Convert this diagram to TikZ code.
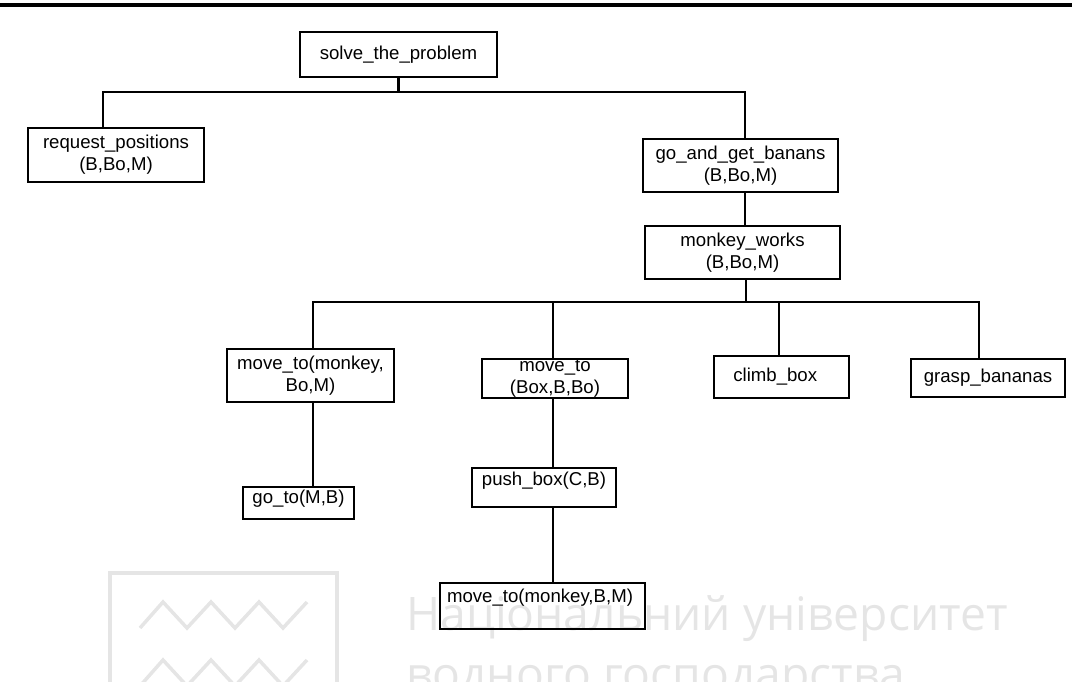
\documentclass[tikz,border=0pt]{standalone}
\usepackage{fontspec}
\setmainfont{Liberation Sans}
\newfontfamily\markfont{Open Sans}

\tikzset{
    goal/.style={draw, line width=1.6pt, align=center, inner sep=0pt,
        font=\fontsize{10.6}{12.4}\selectfont},
    link/.style={line width=1.6pt},
    faint/.style={draw=black!10, line width=2pt},
    marktext/.style={anchor=base west, inner sep=0pt, text=black!10,
        font=\markfont\fontsize{26.3}{32}\selectfont},
}

\begin{document}
\begin{tikzpicture}[x=0.02cm, y=-0.02cm]
    \useasboundingbox (0,0) rectangle (1072,681);
    \clip (0,0) rectangle (1072,681);
    % watermark
    \draw[faint] (110,573) rectangle (337,720);
    \draw[faint] (140,628) -- (163,602) -- (187,628) -- (211,602) -- (235,628) -- (259,602) -- (283,628) -- (307,602);
    \draw[faint] (140,686) -- (163,660) -- (187,686) -- (211,660) -- (235,686) -- (259,660) -- (283,686) -- (307,660);
    \node[marktext] (mark1) at (406,630) {Національний університет};
    \node[marktext] (mark2) at (406,690) {водного господарства};
    % top rule
    \draw[line width=2pt] (0,5) -- (1072,5);
    % goals
    \node[goal, minimum width=3.94cm, minimum height=0.90cm] (solve) at (398.5,54.5) {solve\_the\_problem};
    \node[goal, minimum width=3.52cm, minimum height=1.08cm] (req) at (116,155) {request\_positions\\(B,Bo,M)};
    \node[goal, minimum width=3.90cm, minimum height=1.06cm] (gogb) at (740.5,165.5) {go\_and\_get\_banans\\(B,Bo,M)};
    \node[goal, minimum width=3.90cm, minimum height=1.06cm] (works) at (742.5,252.5) {monkey\_works\\(B,Bo,M)};
    \node[goal, minimum width=3.34cm, minimum height=1.06cm] (mtm) at (310.5,375.5) {move\_to(monkey,\\Bo,M)};
    \node[goal, minimum width=2.92cm, minimum height=0.78cm] (mtb) at (555,378.5) {move\_to\\(Box,B,Bo)};
    \node[goal, minimum width=2.70cm, minimum height=0.84cm] (climb) at (781.5,377) {climb\_box\hspace{0.25cm}};
    \node[goal, minimum width=3.08cm, minimum height=0.76cm] (grasp) at (988,378) {grasp\_bananas};
    \node[goal, minimum width=2.22cm, minimum height=0.64cm, text depth=7pt] (goto) at (298.5,503) {go\_to(M,B)};
    \node[goal, minimum width=2.88cm, minimum height=0.78cm, text depth=10.5pt] (push) at (544,487.5) {push\_box(C,B)};
    \node[goal, minimum width=4.10cm, minimum height=0.92cm, text depth=11.5pt] (mtl) at (542.5,606) {move\_to(monkey,B,M)\hspace{0.1cm}};
    % junctions
    \coordinate (b1L) at (103,92);
    \coordinate (b1R) at (745,92);
    \coordinate (b2L) at (313,302);
    \coordinate (b2M) at (746,302);
    \coordinate (b2R) at (979,302);
    \coordinate (k2) at (553,302);
    \coordinate (k3) at (779,302);
    % first level
    \draw[link] (solve.south) -- (solve.south |- b1L);
    \draw[link] (b1L |- req.north) -- (b1L) -- (b1R) -- (b1R |- gogb.north);
    \draw[link] (b1R |- gogb.south) -- (b1R |- works.north);
    % second level
    \draw[link] (b2M |- works.south) -- (b2M);
    \draw[link] (b2L |- mtm.north) -- (b2L) -- (b2R) -- (b2R |- grasp.north);
    \draw[link] (k2) -- (k2 |- mtb.north);
    \draw[link] (k3) -- (k3 |- climb.north);
    % lower chains
    \draw[link] (b2L |- mtm.south) -- (b2L |- goto.north);
    \draw[link] (k2 |- mtb.south) -- (k2 |- push.north);
    \draw[link] (k2 |- push.south) -- (k2 |- mtl.north);
\end{tikzpicture}
\end{document}
